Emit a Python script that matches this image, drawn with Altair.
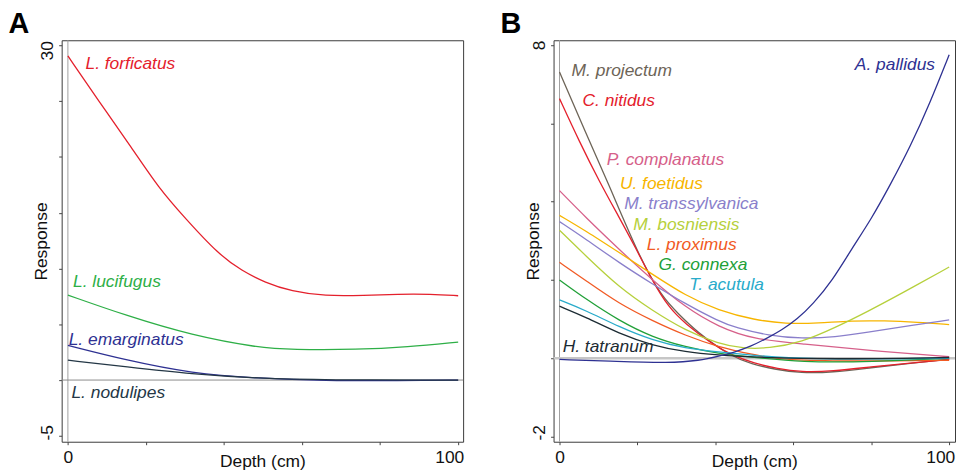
import altair as alt
import pandas as pd

FONT = "Liberation Sans"

# ---------------- Panel A data ----------------
forficatus_x = [0, 8, 16.5, 23.3, 30, 38.6, 44.6, 50.5, 57.3, 65.8, 76, 84.5, 93, 100]
forficatus_y = [29.06, 24.97, 20.76, 17.2, 14.53, 11.27, 9.79, 8.75, 7.95, 7.53, 7.59, 7.71, 7.71, 7.56]
lucifugus_x = [0, 14.9, 31.8, 48.8, 57.3, 74.3, 87, 100]
lucifugus_y = [7.62, 5.78, 4.0, 2.9, 2.73, 2.73, 2.97, 3.41]
emarginatus_x = [0, 14.9, 31.8, 48.8, 65.8, 85, 100]
emarginatus_y = [3.11, 1.78, 0.59, 0.15, -0.06, -0.06, 0.0]
nodulipes_x = [0, 14.9, 31.8, 48.8, 65.8, 100]
nodulipes_y = [1.78, 1.19, 0.53, 0.15, 0.0, 0.0]

names_a = ["L. forficatus", "L. lucifugus", "L. emarginatus", "L. nodulipes"]
colors_a = ["#E4202C", "#2EAF47", "#2E3192", "#243746"]
label_x_a = [4.5, 1.3, 0.2, 0.9]
label_y_a = [27.85, 8.3, 3.11, -1.63]

# ---------------- Panel B data ----------------
projectum_x = [0, 6.8, 12.3, 20.4, 26.3, 30.6, 34.8, 44.2, 49.3, 55, 62, 70, 80, 90, 100]
projectum_y = [7.31, 5.74, 4.52, 2.6, 1.56, 1.13, 0.71, 0.03, -0.14, -0.28, -0.38, -0.36, -0.24, -0.13, -0.02]
nitidus_x = [0, 5.1, 10.2, 15.3, 19.5, 23.8, 28, 32.3, 39.1, 44.2, 50, 56, 62, 70, 80, 90, 100]
nitidus_y = [6.63, 5.53, 4.52, 3.6, 2.83, 1.98, 1.3, 0.88, 0.37, 0.08, -0.13, -0.27, -0.35, -0.33, -0.22, -0.12, -0.03]
complanatus_x = [0, 6.8, 15.3, 23.8, 32.3, 40.8, 50, 62.2, 79.2, 100]
complanatus_y = [4.28, 3.59, 2.78, 2.0, 1.3, 0.8, 0.48, 0.37, 0.2, 0.04]
foetidus_x = [0, 6.8, 15.3, 23.8, 32.3, 40.8, 50, 58, 66.5, 75, 83.4, 91.9, 100]
foetidus_y = [3.65, 3.25, 2.7, 2.15, 1.6, 1.22, 0.98, 0.88, 0.9, 0.96, 0.96, 0.92, 0.86]
transsylvanica_x = [0, 6.8, 15.3, 23.8, 32.3, 40.8, 45.2, 53.7, 62.2, 70.7, 79.2, 87.7, 100]
transsylvanica_y = [3.49, 3.04, 2.44, 1.9, 1.39, 0.95, 0.78, 0.58, 0.5, 0.54, 0.67, 0.8, 0.98]
bosniensis_x = [0, 6.8, 15.3, 23.8, 32.3, 40.8, 47, 53.7, 62.2, 70.7, 79.2, 87.7, 100]
bosniensis_y = [3.27, 2.61, 1.81, 1.22, 0.71, 0.37, 0.25, 0.25, 0.41, 0.78, 1.2, 1.65, 2.33]
proximus_x = [0, 6.8, 15.3, 23.8, 32.3, 40.8, 49.3, 56, 70, 85, 100]
proximus_y = [2.45, 1.98, 1.39, 0.96, 0.58, 0.29, 0.1, -0.03, -0.07, -0.07, -0.05]
connexa_x = [0, 6.8, 15.3, 23.8, 32.3, 40.8, 49.3, 62, 80, 100]
connexa_y = [2.0, 1.51, 0.96, 0.54, 0.29, 0.12, 0.03, -0.1, -0.09, 0.0]
acutula_x = [0, 6.8, 15.3, 23.8, 32.3, 40.8, 49.3, 62, 100]
acutula_y = [1.49, 1.22, 0.8, 0.46, 0.25, 0.16, 0.08, -0.03, 0.0]
tatranum_x = [0, 6.8, 15.3, 23.8, 32.3, 40.8, 49.3, 70, 100]
tatranum_y = [1.33, 1.05, 0.63, 0.33, 0.16, 0.08, 0.03, -0.03, 0.02]
pallidus_x = [0, 15, 28, 36, 41, 45, 49, 53, 57, 61, 65, 70, 75, 80, 85, 90, 95, 100]
pallidus_y = [-0.03, -0.08, -0.12, -0.06, 0.06, 0.16, 0.3, 0.5, 0.72, 1.0, 1.38, 1.98, 2.8, 3.55, 4.45, 5.4, 6.5, 7.75]

names_b = ["M. projectum", "C. nitidus", "P. complanatus", "U. foetidus", "M. transsylvanica",
           "M. bosniensis", "L. proximus", "G. connexa", "T. acutula", "H. tatranum", "A. pallidus"]
colors_b = ["#6D6457", "#E4202C", "#D6608A", "#F7B500", "#8A7FCB",
            "#B6D03C", "#F15A24", "#21A038", "#29ABCA", "#1C2B33", "#2E3192"]
label_x_b = [3.1, 5.9, 12.1, 15.5, 16.6, 18.9, 22.4, 25.4, 33.3, 0.8, 75.8]
label_y_b = [7.21, 6.45, 4.94, 4.33, 3.80, 3.28, 2.76, 2.25, 1.74, 0.16, 7.35]

series_a = [(forficatus_x, forficatus_y), (lucifugus_x, lucifugus_y),
            (emarginatus_x, emarginatus_y), (nodulipes_x, nodulipes_y)]
series_b = [(projectum_x, projectum_y), (nitidus_x, nitidus_y), (complanatus_x, complanatus_y),
            (foetidus_x, foetidus_y), (transsylvanica_x, transsylvanica_y), (bosniensis_x, bosniensis_y),
            (proximus_x, proximus_y), (connexa_x, connexa_y), (acutula_x, acutula_y),
            (tatranum_x, tatranum_y), (pallidus_x, pallidus_y)]

x_ticks = [0, 20, 40, 60, 80, 100]
y_ticks_a = [-5, 0, 5, 10, 15, 20, 25, 30]
y_ticks_b = [-2, 0, 2, 4, 6, 8]

AX_FS = 17.5
LBL_FS = 17.5


def build_lines(names, colors, series):
    rows = []
    for n, c, (xs, ys) in zip(names, colors, series):
        for x, y in zip(xs, ys):
            rows.append({"series": n, "color": c, "x": x, "y": y})
    return pd.DataFrame(rows)


def panel(names, colors, series, lx, ly, xdom, ydom, yticks, ylab_top, ylab_bot,
          top_off, bot_off, letter, zero_color, zero_width):
    W = H = 404
    lines_df = build_lines(names, colors, series)
    labels_df = pd.DataFrame({"name": names, "color": colors, "x": lx, "y": ly})

    xaxis = alt.Axis(
        values=x_ticks,
        labelExpr="datum.value == 0 || datum.value == 100 ? datum.label : ''",
        grid=False, domain=False, tickSize=3, tickColor="#444",
        labelFontSize=AX_FS, labelFont=FONT, labelColor="#111",
        labelBaseline="alphabetic", labelAlign="center", labelPadding=18,
        labelOffset={"condition": {"test": "datum.value == 100", "value": -9}, "value": 0},
        labelFlush=False,
        title="Depth (cm)", titleFontSize=AX_FS, titleFont=FONT, titleFontWeight="normal",
        titleColor="#111", titleX=W / 2, titleY=25, titleAlign="center", titleBaseline="alphabetic",
    )
    yaxis = alt.Axis(
        values=yticks,
        labelExpr=f"datum.value == {ylab_top} || datum.value == {ylab_bot} ? ('' + datum.value) : ''",
        grid=False, domain=False, tickSize=3, tickColor="#444",
        labelFontSize=AX_FS, labelFont=FONT, labelColor="#111",
        labelAngle=270, labelAlign="center", labelBaseline="alphabetic", labelPadding=6,
        labelOffset={"condition": [
            {"test": f"datum.value == {ylab_top}", "value": top_off},
            {"test": f"datum.value == {ylab_bot}", "value": bot_off}], "value": 0},
        labelFlush=False,
        title="Response", titleFontSize=AX_FS, titleFont=FONT, titleFontWeight="normal",
        titleColor="#111", titleAngle=270, titleX=-15.5, titleY=H / 2,
        titleAlign="center", titleBaseline="alphabetic",
    )
    xs = alt.Scale(domain=xdom, nice=False, zero=False)
    ys = alt.Scale(domain=ydom, nice=False, zero=False)

    base_x = alt.X("x:Q", scale=xs, axis=xaxis)
    base_y = alt.Y("y:Q", scale=ys, axis=yaxis)

    vline = alt.Chart(pd.DataFrame({"x": [0]})).mark_rule(color="#a0a0a0", strokeWidth=1).encode(
        x=alt.X("x:Q", scale=xs, axis=xaxis))
    hline = alt.Chart(pd.DataFrame({"y": [0]})).mark_rule(color=zero_color, strokeWidth=zero_width).encode(
        y=alt.Y("y:Q", scale=ys, axis=yaxis))

    lines = alt.Chart(lines_df).mark_line(interpolate="basis", strokeWidth=1.3).encode(
        x=base_x, y=base_y, detail="series:N", color=alt.Color("color:N", scale=None))

    labels = alt.Chart(labels_df).mark_text(
        align="left", baseline="alphabetic", fontSize=LBL_FS, font=FONT, fontStyle="italic").encode(
        x=alt.X("x:Q", scale=xs, axis=xaxis), y=alt.Y("y:Q", scale=ys, axis=yaxis),
        text="name:N", color=alt.Color("color:N", scale=None))

    let = alt.Chart(pd.DataFrame({"t": [letter]})).mark_text(
        align="left", baseline="alphabetic", fontSize=29, fontWeight="bold", font=FONT, color="#000").encode(
        x=alt.value(-53.5), y=alt.value(-7.5), text="t:N")

    return alt.layer(vline, hline, lines, labels, let).properties(
        width=W, height=H, view=alt.ViewBackground(stroke="#3a3a3a", strokeWidth=1))


chart_a = panel(names_a, colors_a, series_a, label_x_a, label_y_a,
                [-1.6, 101.27], [-5.53, 30.47], y_ticks_a, 30, -5, 4.8, -3.5, "A", "#8c8c8c", 1)
chart_b = panel(names_b, colors_b, series_b, label_x_b, label_y_b,
                [-1.53, 101.5], [-2.13, 8.12], y_ticks_b, 8, -2, 0, -4.4, "B", "#c6c6c6", 2.5)

chart = alt.hconcat(chart_a, chart_b, spacing=91, bounds="flush").properties(
    padding={"left": 0, "top": 0, "right": 0, "bottom": 0}
).configure_view(stroke="#3a3a3a", strokeWidth=1).configure(font=FONT)

chart.save("out.html", embed_options={"renderer": "svg", "actions": False})
